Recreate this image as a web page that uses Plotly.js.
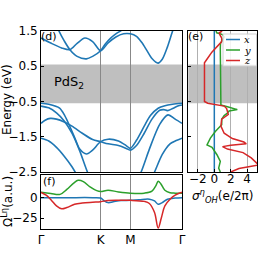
<!DOCTYPE html>
<html><head><meta charset="utf-8">
<script src="https://cdn.plot.ly/plotly-3.0.1.min.js"></script>
<style>html,body{margin:0;padding:0;background:#fff}#plot{width:258px;height:258px}</style>
</head><body><div id="plot"></div>
<script>
// ---- high-symmetry path ----
const kG1 = 0, kK = 1.155, kM = 1.732, kG2 = 2.732;
const kTickLabels = ["Γ", "K", "M", "Γ"];

// ---- band structure (eV) ----
const cA_k = [0.25, 0.335, 0.45, 0.56, 0.7, 0.88, 1.0, 1.155, 1.25, 1.35, 1.45, 1.56, 1.62];
const cA_E = [1.85, 1.54, 1.22, 0.97, 0.78, 0.71, 0.78, 0.94, 1.14, 1.3, 1.42, 1.52, 1.6];
const cB_k = [0, 0.2, 0.4, 0.56, 0.7, 0.85, 1.0, 1.155, 1.3, 1.45, 1.6, 1.732, 1.85, 1.95, 2.05, 2.15, 2.267, 2.35, 2.45, 2.55, 2.65, 2.732];
const cB_E = [1.3, 1.15, 1.02, 0.97, 1.15, 1.3, 1.2, 0.94, 1.16, 1.33, 1.42, 1.42, 1.35, 1.18, 0.95, 0.72, 0.59, 0.7, 1.05, 1.5, 1.9, 2.1];

const vA_k = [0, 0.15, 0.36, 0.46, 0.56, 0.66, 0.75, 0.88, 1.0, 1.155, 1.3, 1.5, 1.65, 1.732, 1.85, 2.0, 2.12, 2.27, 2.4, 2.55, 2.732];
const vA_E = [-0.55, -0.58, -0.69, -0.9, -1.21, -1.55, -1.85, -1.99, -1.88, -1.64, -1.57, -1.62, -1.75, -1.83, -1.6, -1.2, -0.9, -0.69, -0.62, -0.58, -0.55];
const vC_k = [0, 0.08, 0.18, 0.3, 0.45, 0.6, 0.8, 1.0, 1.155, 1.3, 1.5, 1.65, 1.732, 1.85, 2.0, 2.15, 2.3, 2.38, 2.45, 2.55, 2.65, 2.732];
const vC_E = [-1.12, -1.03, -0.98, -1.0, -1.08, -1.2, -1.4, -1.58, -1.64, -1.7, -1.75, -1.83, -1.88, -1.75, -1.4, -1.0, -0.75, -0.73, -0.76, -0.7, -0.63, -0.6];
const vB1_k = [0, 0.15, 0.3, 0.45, 0.6, 0.75, 0.9, 1.0];
const vB1_E = [-0.63, -0.68, -0.82, -1.05, -1.4, -1.9, -2.5, -2.8];
const vB2_k = [1.8, 1.94, 2.1, 2.3, 2.46, 2.6, 2.732];
const vB2_E = [-2.9, -2.5, -1.85, -1.15, -0.88, -1.0, -1.12];
const vD1_k = [0, 0.15, 0.3, 0.45, 0.6, 0.7];
const vD1_E = [-1.54, -1.62, -1.8, -2.05, -2.35, -2.6];
const vD2_k = [2.1, 2.2, 2.35, 2.5, 2.6, 2.732];
const vD2_E = [-2.8, -2.5, -2.0, -1.7, -1.62, -1.54];

// ---- orbital Berry curvature (a.u.) ----
const omX_k = [0, 0.5, 1.0, 1.155, 1.22, 1.3, 1.4, 1.55, 1.732, 1.9, 2.1, 2.2, 2.27, 2.35, 2.45, 2.6, 2.732];
const omX_v = [0, 0, 0, -0.5, -3.5, -6.0, -5.0, -3.5, -3.2, -2.5, -1.8, -4, -8, -6, -2, -0.5, 0];
const omY_k = [0, 0.19, 0.37, 0.5, 0.64, 0.72, 0.82, 0.95, 1.08, 1.155, 1.3, 1.5, 1.732, 2.0, 2.15, 2.23, 2.27, 2.32, 2.4, 2.5, 2.6, 2.732];
const omY_v = [6.5, 5, 4, 10, 18, 21, 19.5, 13, 8.5, 7.5, 9, 7, 5.5, 5.5, 8, 15, 19.8, 17, 9, 6, 5.5, 5.5];
const omZ_k = [0, 0.1, 0.2, 0.3, 0.4, 0.5, 0.65, 0.8, 1.0, 1.155, 1.3, 1.5, 1.732, 2.0, 2.1, 2.2, 2.27, 2.33, 2.4, 2.5, 2.6, 2.732];
const omZ_v = [6.5, 3, -3, -10, -13.5, -12, -8, -6.5, -5.5, -4.8, -3.5, -3.2, -3.2, -4.5, -7, -18, -36.9, -25, -10, -2, 3, 6.5];

// ---- orbital Hall conductivity (e/2π) vs energy ----
const sgE_x = [-2.5, 1.5];
const sg_x = [0, 0];
const sgE_y = [1.5, 1.45, 1.4, 1.33, 1.25, 1.15, 1.0, 0.5, 0.0, -0.5, -0.6, -0.65, -0.7, -0.73, -0.77, -0.83, -0.9, -1.0, -1.16, -1.35, -1.54, -1.73, -1.8, -2.01, -2.2, -2.39, -2.5];
const sg_y = [0.2, 0.3, 1.0, 1.2, 1.0, 0.75, 0.73, 0.73, 0.73, 0.73, 0.8, 1.6, 2.5, 2.8, 1.8, 1.6, 1.2, 0.9, 0.9, 0.12, -0.48, -0.89, -0.28, 0.32, 0.73, 0.53, 0.73];
const sgE_z = [1.5, 1.45, 1.38, 1.3, 1.2, 1.1, 0.9, 0.7, 0.6, 0.5, 0.0, -0.5, -0.55, -0.6, -0.63, -0.7, -0.8, -0.87, -1.0, -1.2, -1.4, -1.55, -1.65, -1.7, -1.74, -1.78, -1.85, -1.95, -2.1, -2.2, -2.3, -2.4, -2.5];
const sg_z = [0.95, 0.6, 0.7, 0.9, 0.9, 0.5, -0.3, -0.9, -1.2, -1.2, -1.2, -1.2, -0.8, 0.3, 1.2, 1.5, 1.6, 1.7, 0.9, 0.8, 1.2, 2.2, 3.6, 3.9, 2.0, 1.0, 1.6, 3.5, 4.5, 5.0, 5.4, 3.0, 2.0];
const legendNames = ["x", "y", "z"];

const BLUE = "#1f77b4", GREEN = "#2ca02c", RED = "#d62728";
const W = 258, H = 258;
const px = v => v / W, py = v => 1 - v / H;

function band(k, E) {
  return {x: k, y: E, xaxis: "x", yaxis: "y", mode: "lines", line: {color: BLUE, width: 1.6, shape: "spline", smoothing: 0.8}, hoverinfo: "skip", showlegend: false};
}
const data = [
  band(cA_k, cA_E), band(cB_k, cB_E), band(vA_k, vA_E), band(vC_k, vC_E),
  band(vB1_k, vB1_E), band(vB2_k, vB2_E), band(vD1_k, vD1_E), band(vD2_k, vD2_E),
  {x: omX_k, y: omX_v, xaxis: "x2", yaxis: "y2", mode: "lines", line: {color: BLUE, width: 1.5, shape: "spline"}, showlegend: false},
  {x: omY_k, y: omY_v, xaxis: "x2", yaxis: "y2", mode: "lines", line: {color: GREEN, width: 1.5, shape: "spline"}, showlegend: false},
  {x: omZ_k, y: omZ_v, xaxis: "x2", yaxis: "y2", mode: "lines", line: {color: RED, width: 1.5, shape: "spline"}, showlegend: false},
  {x: sg_x, y: sgE_x, xaxis: "x3", yaxis: "y3", mode: "lines", line: {color: BLUE, width: 1.5}, showlegend: false},
  {x: sg_y, y: sgE_y, xaxis: "x3", yaxis: "y3", mode: "lines", line: {color: GREEN, width: 1.5}, showlegend: false},
  {x: sg_z, y: sgE_z, xaxis: "x3", yaxis: "y3", mode: "lines", line: {color: RED, width: 1.5}, showlegend: false}
];

const FONT = {family: "DejaVu Sans", size: 12, color: "#000"};
const frame = {showline: true, mirror: true, linecolor: "#000", linewidth: 1, zeroline: false, ticks: "inside", ticklen: 3, tickcolor: "#000", tickfont: FONT};
const xDom = [px(41), px(182)];
function note(x, y, text, font, extra) {
  return Object.assign({xref: "paper", yref: "paper", x: px(x), y: py(y), text: text, showarrow: false, xanchor: "center", yanchor: "middle", font: font}, extra || {});
}
const SERIF = {family: "DejaVu Serif", size: 10, color: "#000"};
const SMALL = {family: "DejaVu Sans", size: 11, color: "#000"};
const layout = {
  width: W, height: H, margin: {l: 0, r: 0, t: 0, b: 0}, paper_bgcolor: "#fff", plot_bgcolor: "rgba(0,0,0,0)",
  font: FONT, showlegend: false,
  xaxis: Object.assign({}, frame, {domain: xDom, range: [kG1, kG2], anchor: "y", tickvals: [kG1, kK, kM, kG2], showticklabels: false, ticks: "", showgrid: true, gridcolor: "#888", gridwidth: 1}),
  yaxis: Object.assign({}, frame, {domain: [py(172), py(31)], range: [-2.5, 1.5], anchor: "x", tickvals: [-2.5, -1.5, -0.5, 0.5, 1.5], showgrid: false}),
  xaxis2: Object.assign({}, frame, {domain: xDom, range: [kG1, kG2], anchor: "y2", tickvals: [kG1, kK, kM, kG2], ticktext: kTickLabels, ticks: "", showgrid: true, gridcolor: "#888", gridwidth: 1}),
  yaxis2: Object.assign({}, frame, {domain: [py(229), py(175)], range: [-38, 27.5], anchor: "x2", tickvals: [-25, 0], showgrid: false}),
  xaxis3: Object.assign({}, frame, {domain: [px(188.3), px(257)], range: [-3.17, 5.2], anchor: "y3", tickvals: [-2, 0, 2, 4], ticklabelstandoff: -4, showgrid: true, gridcolor: "#b0b0b0", gridwidth: 1}),
  yaxis3: Object.assign({}, frame, {domain: [py(172), py(31)], range: [-2.5, 1.5], anchor: "x3", tickvals: [-2.5, -1.5, -0.5, 0.5, 1.5], showticklabels: false, showgrid: false}),
  shapes: [
    {type: "rect", xref: "x domain", yref: "y", x0: 0, x1: 1, y0: -0.55, y1: 0.55, fillcolor: "rgba(128,128,128,0.5)", line: {width: 0}, layer: "below"},
    {type: "rect", xref: "x3 domain", yref: "y3", x0: 0, x1: 1, y0: -0.55, y1: 0.55, fillcolor: "rgba(128,128,128,0.5)", line: {width: 0}, layer: "below"},
    {type: "rect", xref: "paper", yref: "paper", x0: px(223), x1: px(256.5), y0: py(66), y1: py(34), fillcolor: "rgba(255,255,255,0.85)", line: {color: "#d0d0d0", width: 1}},
    {type: "line", xref: "paper", yref: "paper", x0: px(226), x1: px(240), y0: py(39.5), y1: py(39.5), line: {color: BLUE, width: 1.5}},
    {type: "line", xref: "paper", yref: "paper", x0: px(226), x1: px(240), y0: py(50), y1: py(50), line: {color: GREEN, width: 1.5}},
    {type: "line", xref: "paper", yref: "paper", x0: px(226), x1: px(240), y0: py(60.5), y1: py(60.5), line: {color: RED, width: 1.5}}
  ],
  annotations: [
    note(247, 39.5, "<i>" + legendNames[0] + "</i>", SERIF),
    note(247, 50, "<i>" + legendNames[1] + "</i>", SERIF),
    note(247, 60.5, "<i>" + legendNames[2] + "</i>", SERIF),
    note(49, 36.5, "(d)", SMALL),
    note(195, 36.5, "(e)", SMALL),
    note(48.5, 181, "(f)", SMALL),
    note(69, 82, "PdS<sub>2</sub>", {family: "DejaVu Sans", size: 13, color: "#000"}),
    note(7, 100, "Energy (eV)", FONT, {textangle: -90}),
    note(7, 202, "Ω<sup>Lη</sup>(a.u.)", FONT, {textangle: -90}),
    note(222, 196, "<i>σ</i><sup><i>η</i></sup><sub><i>OH</i></sub>(e/2π)", FONT)
  ]
};
Plotly.newPlot("plot", data, layout, {staticPlot: true, displayModeBar: false});
</script></body></html>
